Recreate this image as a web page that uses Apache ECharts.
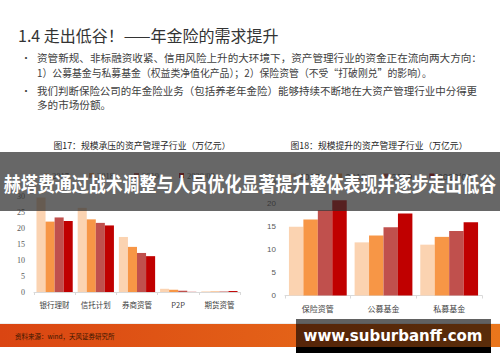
<!DOCTYPE html>
<html>
<head>
<meta charset="utf-8">
<script src="https://cdn.jsdelivr.net/npm/echarts@6/dist/echarts.min.js"></script>
<style>
html,body{margin:0;padding:0;background:#fff;}
#c{width:500px;height:362px;}
</style>
</head>
<body>
<div id="c"></div>
<script>
var seriesNames = ['2017', '2018', '2019', '2020/09'];
var seriesColors = ['#FBD3B1', '#F79646', '#C0504D', '#C00000'];

var leftCategories = ['银行理财', '信托计划', '券商资管', 'P2P', '期货资管'];
var left2017 = [29.5, 26.3, 17.2, 1.0, 0.2];
var left2018 = [22.0, 22.7, 14.1, 0.7, 0.15];
var left2019 = [23.3, 21.6, 12.2, 0.4, 0.15];
var left2020 = [22.2, 20.8, 11.2, 0.05, 0.3];
var leftTicks = {min: 0, max: 30, interval: 5};

var rightCategories = ['保险资管', '公募基金', '私募基金'];
var right2017 = [15.0, 11.6, 11.1];
var right2018 = [16.6, 13.1, 12.8];
var right2019 = [18.6, 14.9, 14.1];
var right2020 = [20.8, 17.9, 16.0];
var rightTicks = {min: 0, max: 25, interval: 5};

var headline = '1.4 走出低谷！——年金险的需求提升';
var bulletLines = [
  '资管新规、非标融资收紧、信用风险上升的大环境下，资产管理行业的资金正在流向两大方向：',
  '1）公募基金与私募基金（权益类净值化产品）；2）保险资管（不受“打破刚兑”的影响）。',
  '我们判断保险公司的年金险业务（包括养老年金险）能够持续不断地在大资产管理行业中分得更',
  '多的市场份额。'
];
var leftTitle = '图17：规模承压的资产管理子行业（万亿元）';
var rightTitle = '图18：规模提升的资产管理子行业（万亿元）';
var bannerText = '赫塔费通过战术调整与人员优化显著提升整体表现并逐步走出低谷';
var sourceText = '资料来源：wind，天风证券研究所';
var watermarkText = 'www.suburbanff.com';

var CJK = '"Noto Sans CJK SC", "Noto Sans", sans-serif';
var chart = echarts.init(document.getElementById('c'), null, {renderer: 'svg'});

var leftData = [left2017, left2018, left2019, left2020];
var rightData = [right2017, right2018, right2019, right2020];
var series = [];
seriesNames.forEach(function (n, i) {
  series.push({
    name: n, type: 'bar', xAxisIndex: 0, yAxisIndex: 0,
    data: leftData[i], barGap: '0%', barCategoryGap: '12%',
    itemStyle: {color: seriesColors[i]}, silent: true
  });
});
seriesNames.forEach(function (n, i) {
  series.push({
    name: n, type: 'bar', xAxisIndex: 1, yAxisIndex: 1,
    data: rightData[i], barGap: '0%', barCategoryGap: '12%',
    itemStyle: {color: seriesColors[i]}, silent: true
  });
});

function xAxisCfg(cats, grid, fs) {
  return {
    type: 'category', gridIndex: grid, data: cats,
    axisLine: {lineStyle: {color: '#d9d9d9'}},
    axisTick: {show: true, length: 3, lineStyle: {color: '#d9d9d9'}},
    axisLabel: {color: '#404040', fontSize: fs, fontFamily: CJK, margin: 9}
  };
}
function yAxisCfg(t, grid, font, fs) {
  return {
    type: 'value', gridIndex: grid, min: t.min, max: t.max, interval: t.interval,
    axisLine: {show: false}, axisTick: {show: false}, splitLine: {show: false},
    axisLabel: {color: '#595959', fontSize: fs, fontFamily: font, margin: 9}
  };
}

var bodyFont = '10.6px ' + CJK;
var option = {
  animation: false,
  backgroundColor: '#ffffff',
  grid: [
    {left: 34, top: 196, width: 206, height: 96},
    {left: 285, top: 181, width: 197, height: 114.5}
  ],
  xAxis: [xAxisCfg(leftCategories, 0, 7.5), xAxisCfg(rightCategories, 1, 8)],
  yAxis: [yAxisCfg(leftTicks, 0, '"Liberation Serif", serif', 8), yAxisCfg(rightTicks, 1, '"Liberation Sans", sans-serif', 8)],
  legend: [
    {
      data: seriesNames, left: 39, top: 166, itemWidth: 5, itemHeight: 5, itemGap: 20,
      icon: 'rect', selectedMode: false,
      textStyle: {color: '#595959', fontSize: 8.5, fontFamily: '"Liberation Serif", serif', padding: [0, 0, 0, -2]}
    },
    {
      data: seriesNames, left: 286, top: 166, itemWidth: 5, itemHeight: 5, itemGap: 17,
      icon: 'rect', selectedMode: false,
      textStyle: {color: '#595959', fontSize: 9.5, fontFamily: '"Liberation Sans", sans-serif', padding: [0, 0, 0, -2]}
    }
  ],
  series: series,
  graphic: [
    {type: 'text', x: 18, y: 35, style: {text: headline, font: '16px ' + CJK, fill: '#333333', verticalAlign: 'middle'}},
    {type: 'text', x: 21, y: 57, style: {text: '•', font: '10px ' + CJK, fill: '#404040', verticalAlign: 'middle'}},
    {type: 'text', x: 21, y: 90, style: {text: '•', font: '10px ' + CJK, fill: '#404040', verticalAlign: 'middle'}},
    {type: 'text', x: 37, y: 57, style: {text: bulletLines[0], font: bodyFont, fill: '#404040', verticalAlign: 'middle'}},
    {type: 'text', x: 37, y: 72, scaleX: 0.93, style: {text: bulletLines[1], font: bodyFont, fill: '#404040', verticalAlign: 'middle'}},
    {type: 'text', x: 37, y: 90, scaleX: 0.99, style: {text: bulletLines[2], font: bodyFont, fill: '#404040', verticalAlign: 'middle'}},
    {type: 'text', x: 37, y: 104, style: {text: bulletLines[3], font: bodyFont, fill: '#404040', verticalAlign: 'middle'}},
    {type: 'text', x: 142, y: 145, style: {text: leftTitle, font: '8.8px ' + CJK, fill: '#262626', textAlign: 'center', verticalAlign: 'middle'}},
    {type: 'text', x: 379, y: 145, style: {text: rightTitle, font: '8.8px ' + CJK, fill: '#262626', textAlign: 'center', verticalAlign: 'middle'}},
    {type: 'rect', z: 100, shape: {x: 0, y: 152, width: 500, height: 59}, style: {fill: 'rgba(45,45,45,0.72)'}},
    {type: 'text', z: 101, x: 250, y: 183, scaleX: 0.85, style: {text: bannerText, font: 'bold 20px ' + CJK, fill: '#ffffff', textAlign: 'center', verticalAlign: 'middle'}},
    {type: 'rect', z: 50, shape: {x: 0, y: 324, width: 500, height: 23},
      style: {fill: new echarts.graphic.LinearGradient(0, 0, 1, 0, [{offset: 0, color: '#DA4512'}, {offset: 1, color: '#EA761C'}])}},
    {type: 'rect', z: 50, shape: {x: 0, y: 323, width: 500, height: 1}, style: {fill: '#eeeeee'}},
    {type: 'text', z: 51, x: 15, y: 335.5, style: {text: sourceText, font: '6.5px ' + CJK, fill: '#3a1600', verticalAlign: 'middle'}},
    {type: 'rect', z: 100, shape: {x: 296, y: 319, width: 195, height: 28}, style: {fill: 'rgba(0,0,0,0.62)'}},
    {type: 'rect', z: 100, shape: {x: 296, y: 347, width: 195, height: 6}, style: {fill: '#000000'}},
    {type: 'text', z: 101, x: 393, y: 336, style: {text: watermarkText, font: 'bold 15px "DejaVu Sans", sans-serif', fill: '#ffffff', textAlign: 'center', verticalAlign: 'middle'}}
  ]
};
chart.setOption(option);
</script>
</body>
</html>
